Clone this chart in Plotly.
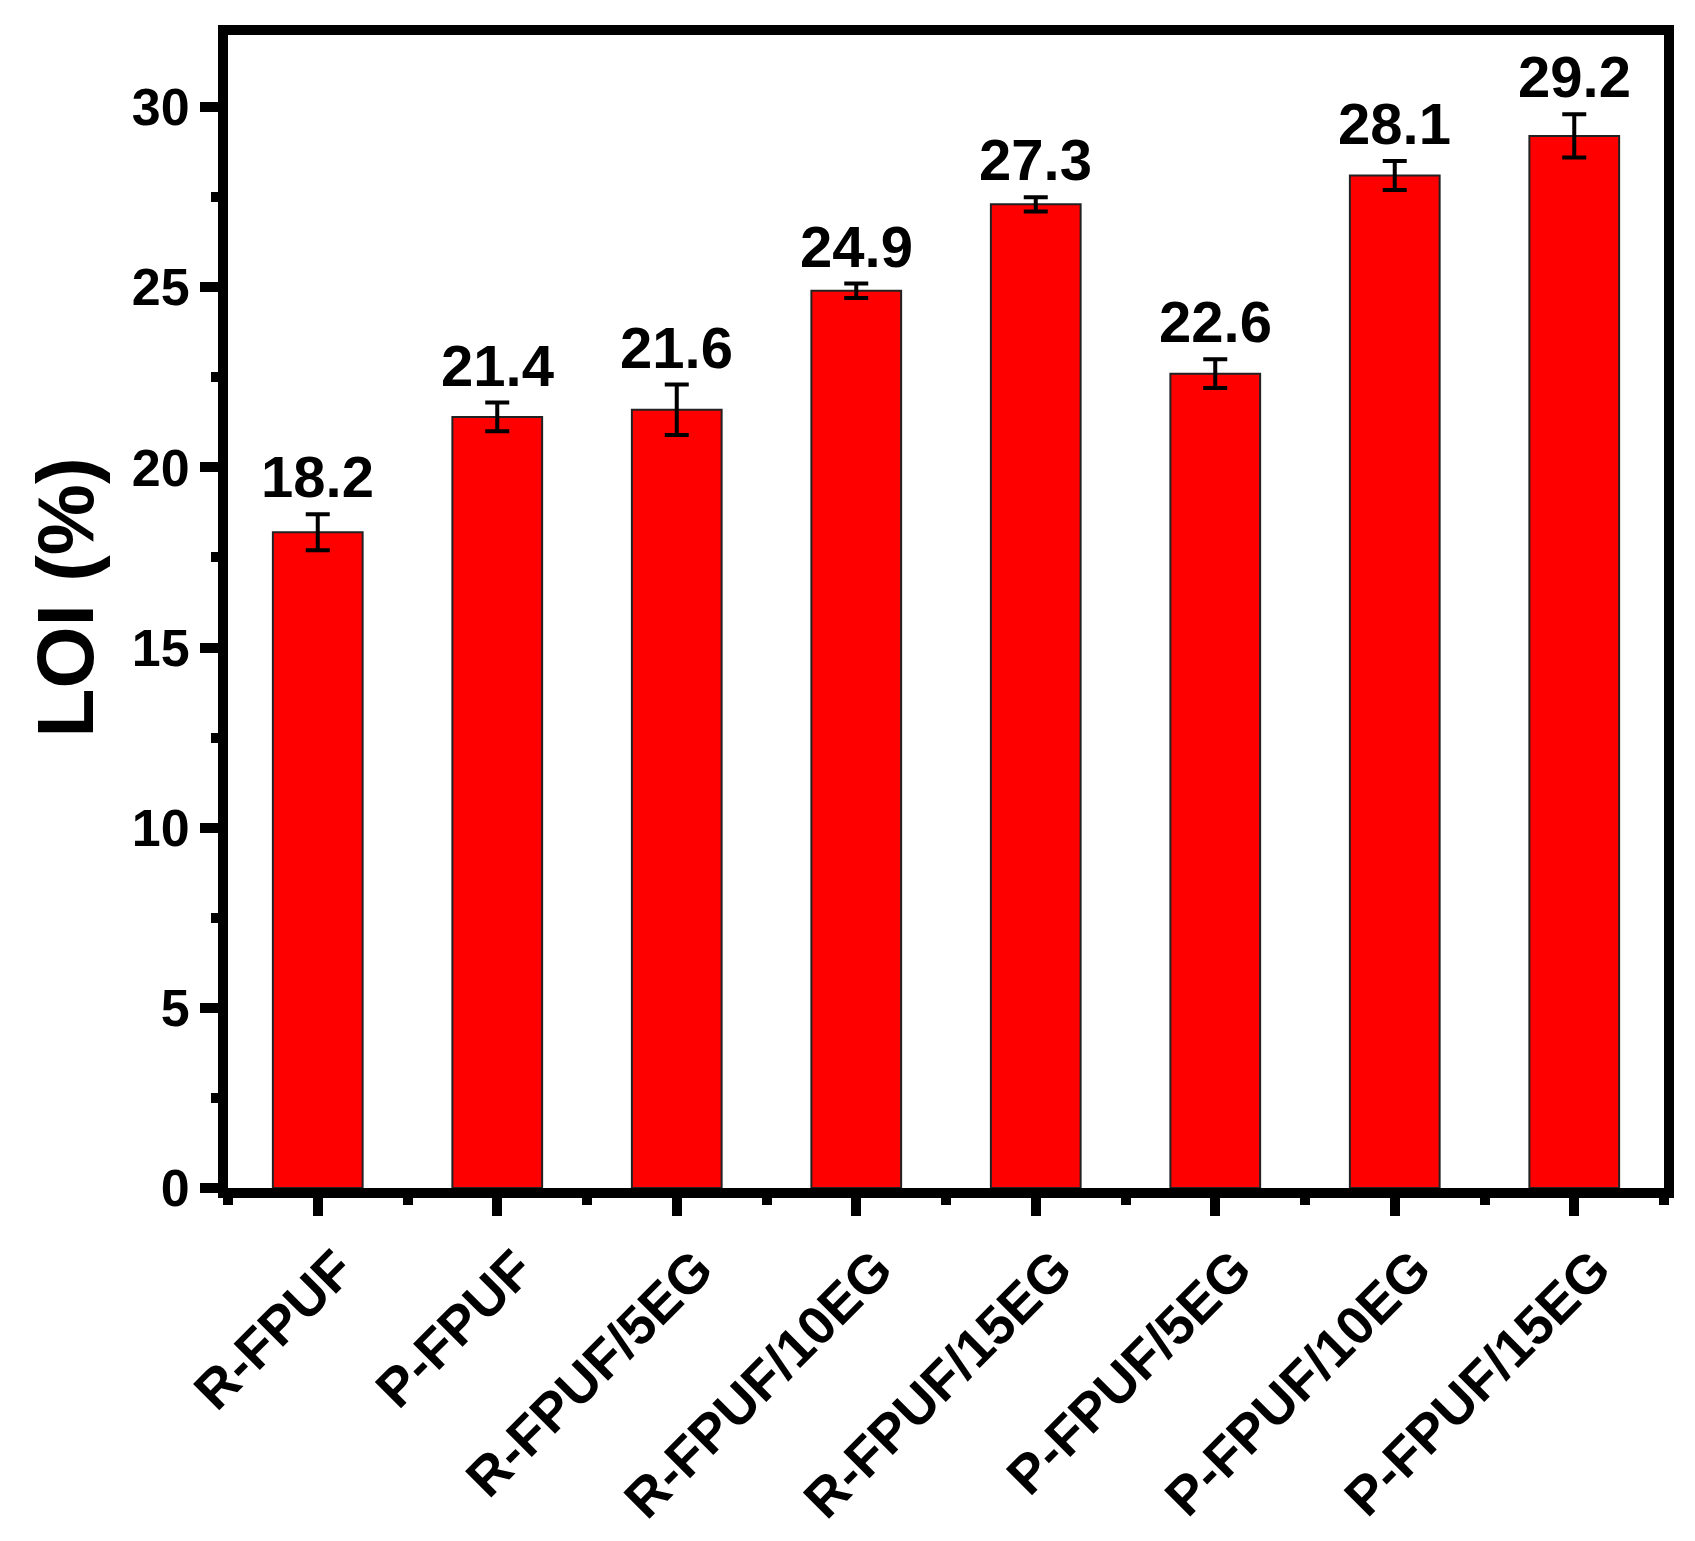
import plotly.graph_objects as go

samples = ["R-FPUF", "P-FPUF", "R-FPUF/5EG", "R-FPUF/10EG", "R-FPUF/15EG",
           "P-FPUF/5EG", "P-FPUF/10EG", "P-FPUF/15EG"]
loi = [18.2, 21.4, 21.6, 24.9, 27.3, 22.6, 28.1, 29.2]
loi_err = [0.5, 0.4, 0.7, 0.2, 0.2, 0.4, 0.4, 0.6]

FONT = "Arial, Liberation Sans, sans-serif"
pos = list(range(len(samples)))

fig = go.Figure()
fig.add_trace(go.Bar(
    x=pos, y=loi, width=0.5,
    marker=dict(color="#ff0000", line=dict(color="#222222", width=2)),
    error_y=dict(type="data", array=loi_err, color="black", thickness=4, width=12),
    showlegend=False,
))

# value labels above the error bars
for xi, v, e in zip(pos, loi, loi_err):
    fig.add_annotation(
        x=xi, y=v + e, text=f"{v:.1f}", showarrow=False,
        yanchor="bottom", yshift=3,
        font=dict(family=FONT, size=58, color="black", weight="bold"),
    )

# y title sits a bit above the axis centre in the original
fig.add_annotation(
    text="LOI (%)", textangle=-90, showarrow=False,
    xref="paper", yref="paper", x=-0.113, y=0.512,
    xanchor="center", yanchor="middle",
    font=dict(family=FONT, size=80, color="black", weight="bold"),
)

axis_common = dict(
    showline=True, linecolor="black", linewidth=10, mirror=True,
    ticks="outside", ticklen=18, tickwidth=10, tickcolor="black",
    showgrid=False, zeroline=False,
)

fig.update_xaxes(
    **axis_common,
    range=[-0.5, 7.5], tickvals=pos, ticktext=samples, tickangle=-45,
    ticklabelshift=20,
    tickfont=dict(family=FONT, size=54, color="black", weight="bold"),
    minor=dict(ticks="outside", ticklen=7, tickwidth=10, tickcolor="black",
               tick0=0.5, dtick=1),
)
fig.update_yaxes(
    **axis_common,
    range=[0, 32], dtick=5,
    tickfont=dict(family=FONT, size=52, color="black", weight="bold"),
    minor=dict(ticks="outside", ticklen=7, tickwidth=10, tickcolor="black",
               dtick=2.5),
)

fig.update_layout(
    width=1695, height=1541,
    margin=dict(l=220, r=39, t=27, b=361),
    plot_bgcolor="white", paper_bgcolor="white",
)

fig.write_html("out.html")
